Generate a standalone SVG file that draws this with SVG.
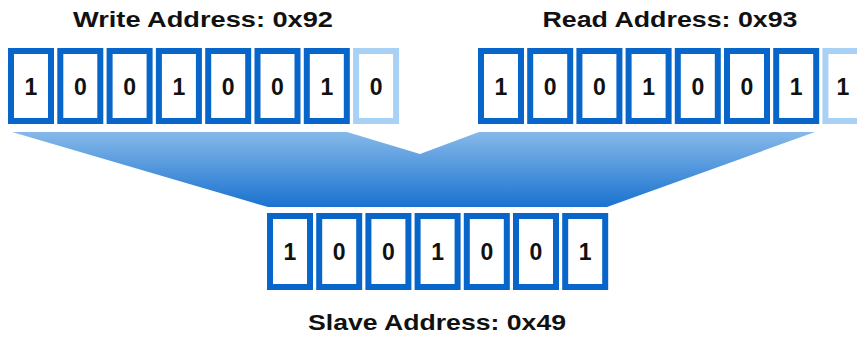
<svg xmlns="http://www.w3.org/2000/svg" width="857" height="338" viewBox="0 0 857 338">
<defs>
<linearGradient id="fg" x1="0" y1="0" x2="0" y2="1">
<stop offset="0" stop-color="#86b9e9"/>
<stop offset="1" stop-color="#1a72d0"/>
</linearGradient>
</defs>
<style>
.bit{fill:#fff;stroke:#0865c9;stroke-width:6}
.lt{fill:#fff;stroke:#a9d0f5;stroke-width:6}
.d{font-family:"Liberation Sans",Arial,sans-serif;font-weight:bold;font-size:23px;text-anchor:middle;fill:#111}
.t{font-family:"Liberation Sans",Arial,sans-serif;font-weight:bold;font-size:22px;text-anchor:middle;fill:#111}
</style>
<rect width="857" height="338" fill="#fff"/>
<g id="funnel">
<polygon points="12,132 347,132 420,154 479,132 815,132 607,207 268,207" fill="url(#fg)"/>
</g>
<g id="write">
<text class="t" x="203" y="27" textLength="260" lengthAdjust="spacingAndGlyphs">Write Address: 0x92</text>
<rect class="bit" x="11" y="51" width="40" height="70"/><text class="d" x="31" y="95">1</text>
<rect class="bit" x="60.3" y="51" width="40" height="70"/><text class="d" x="80.3" y="95">0</text>
<rect class="bit" x="109.6" y="51" width="40" height="70"/><text class="d" x="129.6" y="95">0</text>
<rect class="bit" x="158.9" y="51" width="40" height="70"/><text class="d" x="178.9" y="95">1</text>
<rect class="bit" x="208.2" y="51" width="40" height="70"/><text class="d" x="228.2" y="95">0</text>
<rect class="bit" x="257.5" y="51" width="40" height="70"/><text class="d" x="277.5" y="95">0</text>
<rect class="bit" x="306.8" y="51" width="40" height="70"/><text class="d" x="326.8" y="95">1</text>
<rect class="lt" x="356.1" y="51" width="40" height="70"/><text class="d" x="376.1" y="95">0</text>
</g>
<g id="read">
<text class="t" x="670" y="27" textLength="255" lengthAdjust="spacingAndGlyphs">Read Address: 0x93</text>
<rect class="bit" x="481" y="51" width="40" height="70"/><text class="d" x="501" y="95">1</text>
<rect class="bit" x="530.2" y="51" width="40" height="70"/><text class="d" x="550.2" y="95">0</text>
<rect class="bit" x="579.4" y="51" width="40" height="70"/><text class="d" x="599.4" y="95">0</text>
<rect class="bit" x="628.6" y="51" width="40" height="70"/><text class="d" x="648.6" y="95">1</text>
<rect class="bit" x="677.8" y="51" width="40" height="70"/><text class="d" x="697.8" y="95">0</text>
<rect class="bit" x="727" y="51" width="40" height="70"/><text class="d" x="747" y="95">0</text>
<rect class="bit" x="776.2" y="51" width="40" height="70"/><text class="d" x="796.2" y="95">1</text>
<rect class="lt" x="825.4" y="51" width="40" height="70"/><text class="d" x="843" y="95">1</text>
</g>
<g id="slave">
<rect class="bit" x="270" y="216" width="40" height="71"/><text class="d" x="290" y="260">1</text>
<rect class="bit" x="319.2" y="216" width="40" height="71"/><text class="d" x="339.2" y="260">0</text>
<rect class="bit" x="368.4" y="216" width="40" height="71"/><text class="d" x="388.4" y="260">0</text>
<rect class="bit" x="417.6" y="216" width="40" height="71"/><text class="d" x="437.6" y="260">1</text>
<rect class="bit" x="466.8" y="216" width="40" height="71"/><text class="d" x="486.8" y="260">0</text>
<rect class="bit" x="516" y="216" width="40" height="71"/><text class="d" x="536" y="260">0</text>
<rect class="bit" x="565.2" y="216" width="40" height="71"/><text class="d" x="585.2" y="260">1</text>
<text class="t" x="437" y="330" textLength="258" lengthAdjust="spacingAndGlyphs">Slave Address: 0x49</text>
</g>
</svg>
